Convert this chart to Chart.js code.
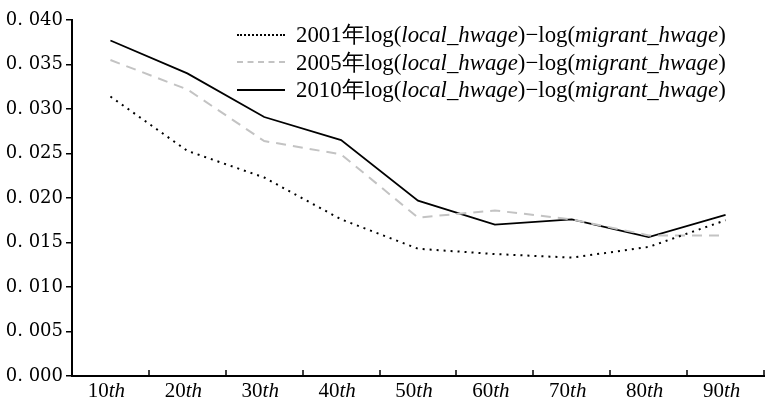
<!DOCTYPE html>
<html><head><meta charset="utf-8">
<script src="https://cdn.jsdelivr.net/npm/chart.js@4/dist/chart.umd.min.js"></script>
<style>
html,body{margin:0;padding:0;background:#fff;}
#wrap{position:relative;width:765px;height:402px;}
#legend{position:absolute;left:237px;top:21px;font-family:"Liberation Serif",serif;font-size:22.8px;color:#000;}
.row{height:27.5px;display:flex;align-items:center;white-space:nowrap;}
.sw{width:48px;height:0;margin-right:11px;}
i{font-style:italic;}
</style></head>
<body><div id="wrap"><canvas id="c" width="765" height="402"></canvas>
<div id="legend"></div></div>
<script>
const categories = ["10", "20", "30", "40", "50", "60", "70", "80", "90"];
const seriesNames = ["2001年", "2005年", "2010年"];
const v2001 = [0.0314, 0.0253, 0.0223, 0.0176, 0.0143, 0.0137, 0.0133, 0.0145, 0.0175];
const v2005 = [0.0355, 0.0322, 0.0264, 0.0249, 0.0178, 0.0186, 0.0176, 0.0158, 0.0158];
const v2010 = [0.0377, 0.0340, 0.0291, 0.0265, 0.0197, 0.0170, 0.0176, 0.0156, 0.0181];
const yTicks = [0, 0.005, 0.010, 0.015, 0.020, 0.025, 0.030, 0.035, 0.040];

const styles = [
  {color:'#000', dash:[2,5], width:2, css:'border-top:2px dotted #000'},
  {color:'#c3c3c3', dash:[10,7], width:2, css:'border-top:2px dashed #c3c3c3'},
  {color:'#000', dash:[], width:1.8, css:'border-top:2px solid #000'}
];
const data = [v2001, v2005, v2010];

const leg = document.getElementById('legend');
seriesNames.forEach((n,i)=>{
  const r = document.createElement('div'); r.className='row';
  r.innerHTML = '<span class="sw" style="'+styles[i].css+'"></span><span>'+n+'log(<i>local_hwage</i>)−log(<i>migrant_hwage</i>)</span>';
  leg.appendChild(r);
});

const xLabelPlugin = {
  id:'xlab',
  afterDraw(chart){
    const ctx = chart.ctx, xs = chart.scales.x;
    ctx.save();
    ctx.fillStyle='#000';
    ctx.textBaseline='alphabetic';
    ctx.strokeStyle='#000'; ctx.lineWidth=1.5;
    for(let i=0;i<=categories.length;i++){
      const x = Math.round(xs.getPixelForValue(i-0.5));
      ctx.beginPath(); ctx.moveTo(x, xs.top); ctx.lineTo(x, xs.top-6); ctx.stroke();
    }
    categories.forEach((c,i)=>{
      const x = xs.getPixelForValue(i) - 4;
      ctx.font = '21px "Liberation Serif"';
      const w1 = ctx.measureText(c).width;
      ctx.font = 'italic 21px "Liberation Serif"';
      const w2 = ctx.measureText('th').width;
      const x0 = x - (w1+w2)/2;
      ctx.font = '21px "Liberation Serif"';
      ctx.fillText(c, x0, 397);
      ctx.font = 'italic 21px "Liberation Serif"';
      ctx.fillText('th', x0+w1, 397);
    });
    ctx.restore();
  }
};

new Chart(document.getElementById('c'), {
  type:'line',
  data:{
    labels: categories.map(c=>c+'th'),
    datasets: data.map((d,i)=>({
      label: seriesNames[i],
      data: d,
      borderColor: styles[i].color,
      borderDash: styles[i].dash,
      borderWidth: styles[i].width,
      pointRadius:0,
      tension:0,
      fill:false
    }))
  },
  options:{
    responsive:false,
    animation:false,
    layout:{padding:{top:20,right:1,left:0,bottom:0}},
    plugins:{legend:{display:false},tooltip:{enabled:false}},
    scales:{
      x:{
        offset:true,
        grid:{display:false},
        border:{display:true,color:'#000',width:2},
        ticks:{color:'rgba(0,0,0,0)',font:{size:19,family:'"Liberation Serif"'},padding:4},
        afterFit(s){ s.height = 26; }
      },
      y:{
        min:0,max:0.04,
        afterBuildTicks(s){ s.ticks = yTicks.map(v=>({value:v})); },
        grid:{display:true,drawOnChartArea:false,tickLength:6,color:'#000',lineWidth:1.5},
        border:{display:true,color:'#000',width:2},
        ticks:{color:'#000',padding:3,font:{size:18,family:'"DejaVu Serif"'},
          callback:(v)=>{ const s=v.toFixed(3); return s.replace('.', '. '); }},
        afterFit(s){ s.width = 72; }
      }
    }
  },
  plugins:[xLabelPlugin]
});
</script></body></html>
